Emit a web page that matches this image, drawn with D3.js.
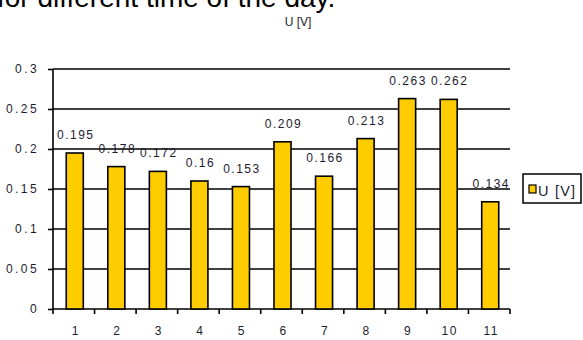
<!DOCTYPE html>
<html>
<head>
<meta charset="utf-8">
<script src="https://cdn.jsdelivr.net/npm/d3@7"></script>
<style>
  body { margin: 0; background: #fff; }
  svg text { font-family: "Liberation Sans", Arial, sans-serif; }
</style>
</head>
<body>
<div id="chart"></div>
<script>
// Data
const categories = ["1", "2", "3", "4", "5", "6", "7", "8", "9", "10", "11"];
const voltages = [0.195, 0.178, 0.172, 0.16, 0.153, 0.209, 0.166, 0.213, 0.263, 0.262, 0.134];
const yTicks = [0, 0.05, 0.1, 0.15, 0.2, 0.25, 0.3];
const seriesName = "U [V]";

function drawChart() {
    const width = 583, height = 340;
    const plot = {left: 53, right: 510, top: 69, bottom: 309};
    const ink = "#1c1c30";

    const svg = d3.select("#chart")
        .append("svg")
        .attr("width", width)
        .attr("height", height);

    // Caption fragment cut off at the top of the picture
    svg.append("text")
        .attr("x", -3)
        .attr("y", 7)
        .attr("font-size", 28)
        .attr("fill", "#000")
        .text("for different time of the day.");

    // Chart title
    svg.append("text")
        .attr("x", 298)
        .attr("y", 26)
        .attr("text-anchor", "middle")
        .attr("font-size", 12)
        .attr("fill", ink)
        .text(seriesName);

    const x = d3.scaleBand()
        .domain(categories)
        .range([plot.left, plot.right])
        .padding(0);

    const y = d3.scaleLinear()
        .domain([0, 0.3])
        .range([plot.bottom, plot.top]);

    // Gridlines
    svg.append("g")
        .selectAll("line")
        .data(yTicks.filter(d => d > 0))
        .enter()
        .append("line")
        .attr("x1", plot.left)
        .attr("x2", plot.right)
        .attr("y1", d => y(d))
        .attr("y2", d => y(d))
        .attr("stroke", "#000")
        .attr("stroke-width", 1.6);

    // Left axis
    const yAxis = svg.append("g")
        .attr("transform", `translate(${plot.left},0)`)
        .call(d3.axisLeft(y).tickValues(yTicks).tickSize(5).tickPadding(9)
            .tickFormat(d => String(d)));
    yAxis.select(".domain").attr("stroke-width", 1.6).attr("d", `M0,${plot.bottom}V${plot.top}`);
    yAxis.selectAll(".tick line").attr("stroke-width", 1.6);
    yAxis.selectAll("text")
        .attr("font-size", 12)
        .attr("letter-spacing", 2.4)
        .attr("fill", ink)
        .attr("font-family", "Liberation Sans, Arial, sans-serif");

    // Bottom axis with ticks between categories
    const xAxis = svg.append("g")
        .attr("transform", `translate(0,${plot.bottom})`)
        .call(d3.axisBottom(x).tickSize(0).tickPadding(17));
    xAxis.select(".domain").attr("stroke-width", 1.6).attr("d", `M${plot.left},0H${plot.right}`);
    xAxis.selectAll("text")
        .attr("font-size", 12)
        .attr("letter-spacing", 1.5)
        .attr("dx", 2)
        .attr("fill", ink)
        .attr("font-family", "Liberation Sans, Arial, sans-serif");
    xAxis.selectAll(".sep")
        .data(categories.concat(["end"]))
        .enter()
        .append("line")
        .attr("class", "sep")
        .attr("x1", (d, i) => plot.left + i * x.step())
        .attr("x2", (d, i) => plot.left + i * x.step())
        .attr("y1", 0)
        .attr("y2", 5)
        .attr("stroke", "#000")
        .attr("stroke-width", 1.6);

    // Bars
    const barW = x.bandwidth() * 0.41;
    svg.selectAll(".bar")
        .data(voltages)
        .enter()
        .append("rect")
        .attr("class", "bar")
        .attr("x", (d, i) => x(categories[i]) + x.bandwidth() / 2 - barW / 2 + 1)
        .attr("y", d => y(d))
        .attr("width", barW)
        .attr("height", d => y(0) - y(d))
        .attr("fill", "#ffcc00")
        .attr("stroke", "#000")
        .attr("stroke-width", 1.6);

    // Value labels
    svg.selectAll(".val")
        .data(voltages)
        .enter()
        .append("text")
        .attr("class", "val")
        .attr("x", (d, i) => x(categories[i]) + x.bandwidth() / 2 + 2)
        .attr("y", d => y(d) - 14)
        .attr("text-anchor", "middle")
        .attr("font-size", 12)
        .attr("letter-spacing", 1.5)
        .attr("fill", ink)
        .text(d => String(d));

    // Legend
    const legend = svg.append("g").attr("transform", "translate(523,174)");
    legend.append("rect")
        .attr("x", 0).attr("y", 0)
        .attr("width", 58).attr("height", 29)
        .attr("fill", "#fff")
        .attr("stroke", "#000")
        .attr("stroke-width", 1.5);
    legend.append("rect")
        .attr("x", 6).attr("y", 11)
        .attr("width", 7).attr("height", 8)
        .attr("fill", "#ffcc00")
        .attr("stroke", "#000")
        .attr("stroke-width", 1.2);
    legend.append("text")
        .attr("x", 15).attr("y", 21.5)
        .attr("font-size", 14.5)
        .attr("letter-spacing", 1.2)
        .attr("fill", ink)
        .text(seriesName);
}

drawChart();
</script>
</body>
</html>
